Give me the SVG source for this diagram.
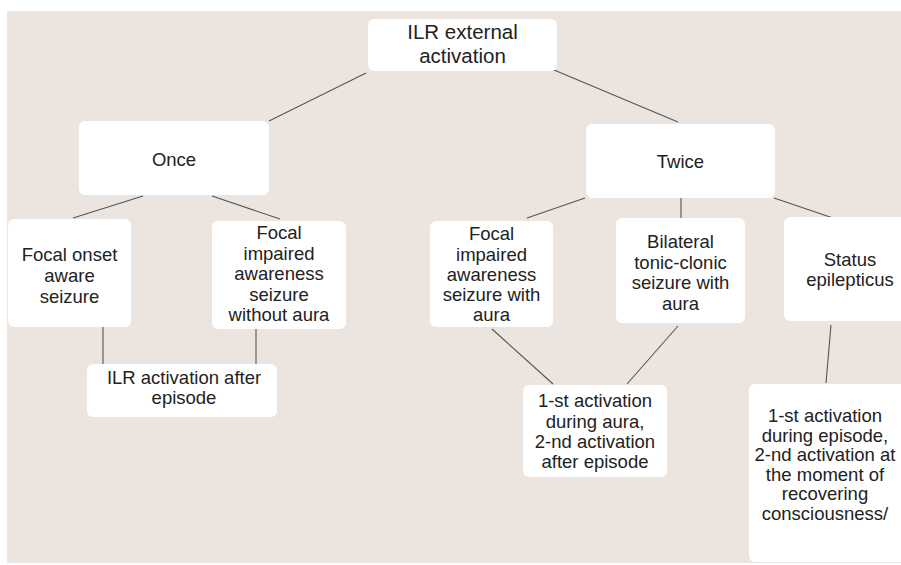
<svg xmlns="http://www.w3.org/2000/svg" width="901" height="565" viewBox="0 0 901 565">
<style>
.bg{fill:#ece4de}
.box{fill:#ffffff}
.t{font-family:"Liberation Sans",Arial,sans-serif;font-size:18.5px;fill:#222;text-anchor:middle}
.big{font-size:20.5px}
.c line{stroke:#555;stroke-width:1.1}
</style>
<rect width="901" height="565" fill="#ffffff"/>
<rect class="bg" x="7" y="11" width="894" height="552"/>
<g class="c" id="connectors">
<line x1="366" y1="73" x2="269" y2="121"/>
<line x1="554" y1="70" x2="678" y2="122"/>
<line x1="143" y1="196" x2="73" y2="218"/>
<line x1="212" y1="196" x2="280" y2="219"/>
<line x1="585" y1="198" x2="527" y2="218"/>
<line x1="681" y1="198" x2="681" y2="218"/>
<line x1="774" y1="198" x2="833" y2="218"/>
<line x1="103" y1="327" x2="103" y2="364"/>
<line x1="256" y1="329" x2="256" y2="364"/>
<line x1="492" y1="329" x2="553" y2="384"/>
<line x1="678" y1="326" x2="627" y2="384"/>
<line x1="831" y1="325" x2="826" y2="383"/>
</g>
<g id="root"><rect class="box" x="368" y="19" width="189" height="52" rx="6"/>
<text class="t big" x="462.5" y="39">ILR external</text><text class="t big" x="462.5" y="63">activation</text></g>
<g id="once"><rect class="box" x="79" y="121" width="190" height="74" rx="6"/>
<text class="t" x="174" y="166">Once</text></g>
<g id="twice"><rect class="box" x="586" y="124" width="189" height="74" rx="6"/>
<text class="t" x="680.5" y="168">Twice</text></g>
<g id="focal-onset"><rect class="box" x="8" y="219" width="123" height="108" rx="6"/>
<text class="t" x="69.5" y="261">Focal onset</text><text class="t" x="69.5" y="282">aware</text><text class="t" x="69.5" y="303">seizure</text></g>
<g id="focal-impaired-no-aura"><rect class="box" x="212" y="221" width="134" height="108" rx="6"/>
<text class="t" x="279" y="239">Focal</text><text class="t" x="279" y="260">impaired</text><text class="t" x="279" y="280">awareness</text><text class="t" x="279" y="301">seizure</text><text class="t" x="279" y="321">without aura</text></g>
<g id="ilr-after"><rect class="box" x="87" y="364" width="190" height="53" rx="6"/>
<text class="t" x="184" y="384">ILR activation after</text><text class="t" x="184" y="404">episode</text></g>
<g id="focal-impaired-aura"><rect class="box" x="430" y="221" width="123" height="106" rx="6"/>
<text class="t" x="491.5" y="240">Focal</text><text class="t" x="491.5" y="260.5">impaired</text><text class="t" x="491.5" y="281">awareness</text><text class="t" x="491.5" y="301">seizure with</text><text class="t" x="491.5" y="321">aura</text></g>
<g id="bilateral"><rect class="box" x="616" y="218" width="129" height="105" rx="6"/>
<text class="t" x="680.5" y="248">Bilateral</text><text class="t" x="680.5" y="269">tonic-clonic</text><text class="t" x="680.5" y="289">seizure with</text><text class="t" x="680.5" y="310">aura</text></g>
<g id="status"><rect class="box" x="784" y="217" width="132" height="104" rx="6"/>
<text class="t" x="850" y="266">Status</text><text class="t" x="850" y="286">epilepticus</text></g>
<g id="first-aura"><rect class="box" x="523" y="385" width="144" height="92" rx="6"/>
<text class="t" x="595" y="407">1-st activation</text><text class="t" x="595" y="427.5">during aura,</text><text class="t" x="595" y="448">2-nd activation</text><text class="t" x="595" y="468">after episode</text></g>
<g id="first-episode"><rect class="box" x="749" y="384" width="160" height="178" rx="6"/>
<text class="t" x="825" y="422">1-st activation</text><text class="t" x="825" y="441.5">during episode,</text><text class="t" x="825" y="461">2-nd activation at</text><text class="t" x="825" y="480.5">the moment of</text><text class="t" x="825" y="500">recovering</text><text class="t" x="825" y="519.5">consciousness/</text></g>
</svg>
